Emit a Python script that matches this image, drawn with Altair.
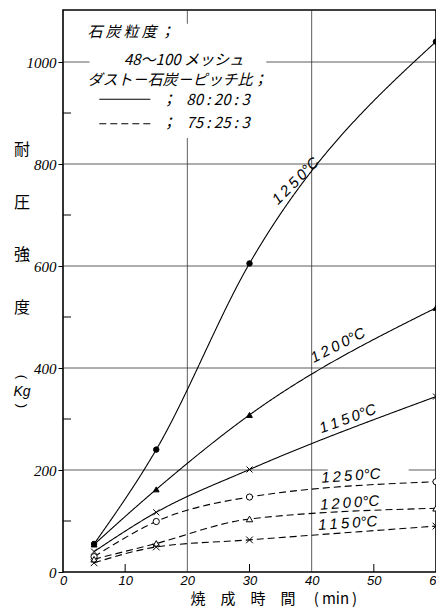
import altair as alt
import pandas as pd

# ---- data ----
times = [5, 15, 30, 60]
solid_1250 = [55, 240, 605, 1040]
solid_1200 = [54, 162, 308, 518]
solid_1150 = [40, 117, 201, 344]
dash_1250 = [30, 99, 147, 177]
dash_1200 = [25, 56, 104, 125]
dash_1150 = [18, 49, 63, 90]

series_keys = ["s1250", "s1200", "s1150", "d1250", "d1200", "d1150"]
series_vals = [solid_1250, solid_1200, solid_1150, dash_1250, dash_1200, dash_1150]
series_style = ["solid", "solid", "solid", "dashed", "dashed", "dashed"]

x_ticks = [0, 10, 20, 30, 40, 50, 60]
y_ticks = [0, 200, 400, 600, 800, 1000]
x_grid = [20, 40]
x_minor = [10, 30, 50]
y_minor = [100, 300, 500, 700, 900]

T = "\u2009"
curve_label_text = [T.join("1250") + "°C", T.join("1200") + "°C", T.join("1150") + "°C",
                    T.join("1250") + "°C", T.join("1200") + "°C", T.join("1150") + "°C"]
curve_label_x = [37.4, 44.2, 45.8, 46.3, 46.1, 45.8]
curve_label_y = [767, 445, 301, 189, 136, 96]
curve_label_angle = [315, 333, 340, 356, 356, 356]

N = "\u00a0"
legend_lines = ["石" + T + "炭" + T + "粒" + T + "度" + T + "；",
                "48～100" + N + "メッシュ",
                "ダスト－石炭－ピッチ比；",
                "；" + N * 3 + "80" + N + ":" + N + "20" + N + ":" + N + "3",
                "；" + N * 3 + "75" + N + ":" + N + "25" + N + ":" + N + "3"]
legend_x = [3.95, 9.8, 3.95, 15.8, 15.8]
legend_y = [1058, 1003, 965, 926, 881]

W, H = 373, 562
XMAX, YMAX = 60, 1102

rows = []
for k, vals, st in zip(series_keys, series_vals, series_style):
    for t, v in zip(times, vals):
        rows.append({"series": k, "style": st, "x": t, "y": v})
df = pd.DataFrame(rows)

xs = alt.Scale(domain=[0, XMAX], nice=False, zero=False)
ys = alt.Scale(domain=[0, YMAX], nice=False)

xaxis = alt.Axis(values=x_ticks, grid=False, ticks=False, domain=False, format="d",
                 labelFont="Liberation Sans", labelFontStyle="italic", labelFontSize=13,
                 labelColor="black", labelPadding=2, labelFlush=False,
                 title="焼\u3000成\u3000時\u3000間\u3000" + N + "(" + T + "min" + T + ")",
                 titleFont="Noto Sans CJK JP",
                 titleFontSize=15, titleFontWeight="normal", titleColor="black",
                 titleX=127, titleY=26, titleAlign="left", titleBaseline="middle", titleAngle=0)
yaxis = alt.Axis(values=y_ticks, grid=False, ticks=True, tickSize=5, tickColor="black", format="d",
                 domain=False, labelFont="Liberation Sans Narrow", labelFontStyle="italic",
                 labelFontSize=15, labelColor="black", labelPadding=2, title=None)

X = alt.X("x:Q", scale=xs, axis=xaxis)
Y = alt.Y("y:Q", scale=ys, axis=yaxis)

# grid lines
hgrid_df = pd.DataFrame({"x": [0, 0, 55.6, 0, 0, 0], "x2": [60, 42.6, 60, 60, 60, 60],
                         "y": [400, 200, 200, 600, 800, 1000]})
hgrid = alt.Chart(hgrid_df).mark_rule(color="#333", strokeWidth=0.8).encode(
    x=X, x2="x2:Q", y=Y)
vgrid = alt.Chart(pd.DataFrame({"x": x_grid})).mark_rule(color="#333", strokeWidth=0.8).encode(x=X)
yminor = alt.Chart(pd.DataFrame({"y": y_minor})).mark_rule(color="black", strokeWidth=1).encode(
    y=Y, x=alt.value(0), x2=alt.value(8))
xminor = alt.Chart(pd.DataFrame({"x": x_minor})).mark_rule(color="black", strokeWidth=1).encode(
    x=X, y=alt.value(H), y2=alt.value(H - 8))

# white box behind the legend text
box = alt.Chart(pd.DataFrame({"x": [4.26], "x2": [32.7], "y": [851], "y2": [1075]})).mark_rect(
    fill="white").encode(x=X, x2="x2:Q", y=Y, y2="y2:Q")

dash_scale = alt.Scale(domain=["solid", "dashed"], range=[[1, 0], [7, 4]])

lines = alt.Chart(df).mark_line(interpolate="monotone", color="black", strokeWidth=1.1).encode(
    x=X, y=Y, detail="series:N",
    strokeDash=alt.StrokeDash("style:N", scale=dash_scale, legend=None))

xpath = "M-1,-1L1,1M-1,1L1,-1"
points = alt.Chart(df).mark_point(stroke="black", strokeWidth=1, opacity=1).encode(
    x=X, y=Y,
    shape=alt.Shape("series:N", scale=alt.Scale(domain=series_keys,
                    range=["circle", "triangle-up", xpath, "circle", "triangle-up", xpath]), legend=None),
    fill=alt.Fill("series:N", scale=alt.Scale(domain=series_keys,
                  range=["black", "black", "transparent", "white", "white", "transparent"]), legend=None),
    size=alt.Size("series:N", scale=alt.Scale(domain=series_keys,
                  range=[30, 45, 30, 30, 40, 30]), legend=None),
)

# legend samples
leg_df = pd.DataFrame({"x": [5.84, 5.84], "x2": [14.05, 14.05], "y": [927, 879],
                       "style": ["solid", "dashed"]})
leg_lines = alt.Chart(leg_df).mark_rule(color="black", strokeWidth=1.1).encode(
    x=X, x2="x2:Q", y=Y, strokeDash=alt.StrokeDash("style:N", scale=dash_scale, legend=None))
leg_text = alt.Chart(pd.DataFrame({"x": legend_x, "y": legend_y, "t": legend_lines})).mark_text(
    align="left", baseline="middle", font="Noto Sans CJK JP", fontSize=15, fontStyle="italic",
    color="black", fill="black").encode(x=X, y=Y, text="t:N")

labels = alt.Chart(pd.DataFrame({"x": curve_label_x, "y": curve_label_y, "t": curve_label_text,
                                 "a": curve_label_angle})).mark_text(
    align="center", baseline="middle", font="Liberation Sans", fontSize=15, fontStyle="italic",
    color="black", fill="black").encode(x=X, y=Y, text="t:N", angle=alt.Angle("a:Q", scale=None))

ytitle1 = alt.Chart(pd.DataFrame({"d": [0]})).mark_text(
    align="center", baseline="top", font="Noto Sans CJK JP", fontSize=16, lineBreak="\n",
    lineHeight=52.7, color="black", fill="black").encode(
    x=alt.value(-41), y=alt.value(132), text=alt.value("耐\n圧\n強\n度"))
yparen1 = alt.Chart(pd.DataFrame({"d": [0]})).mark_text(
    align="center", baseline="middle", font="Liberation Sans", fontSize=13, angle=90,
    color="black", fill="black").encode(x=alt.value(-41), y=alt.value(367), text=alt.value("("))
ykg = alt.Chart(pd.DataFrame({"d": [0]})).mark_text(
    align="center", baseline="middle", font="Liberation Sans", fontSize=14, fontStyle="italic",
    color="black", fill="black").encode(x=alt.value(-41), y=alt.value(382), text=alt.value("Kg"))
yparen2 = alt.Chart(pd.DataFrame({"d": [0]})).mark_text(
    align="center", baseline="middle", font="Liberation Sans", fontSize=13, angle=90,
    color="black", fill="black").encode(x=alt.value(-41), y=alt.value(396), text=alt.value(")"))

chart = alt.layer(hgrid, vgrid, yminor, xminor, box, lines, points, leg_lines, leg_text, labels,
                  ytitle1, yparen1, ykg, yparen2).properties(
    width=W, height=H,
    autosize=alt.AutoSizeParams(type="none"),
    padding={"left": 55, "top": 2, "right": 0, "bottom": 36},
    background="white",
).configure_view(stroke="black", strokeWidth=1.6)

chart.save("out.html", embed_options={"renderer": "svg", "actions": False})
